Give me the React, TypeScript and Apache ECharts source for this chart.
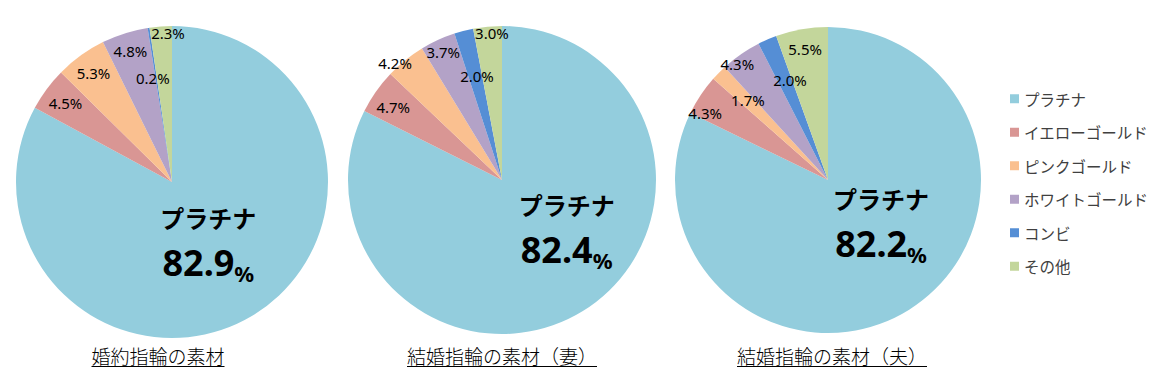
import React, { useEffect, useRef } from "react";
import * as echarts from "echarts";

const categories = ["プラチナ", "イエローゴールド", "ピンクゴールド", "ホワイトゴールド", "コンビ", "その他"];
const engagementValues = [82.9, 4.5, 5.3, 4.8, 0.2, 2.3];
const weddingWifeValues = [82.4, 4.7, 4.2, 3.7, 2.0, 3.0];
const weddingHusbandValues = [82.2, 4.3, 1.7, 4.3, 2.0, 5.5];
const pieTitles = ["婚約指輪の素材", "結婚指輪の素材（妻）", "結婚指輪の素材（夫）"];
const sliceColors = ["#93CDDD", "#D99694", "#FAC090", "#B3A2C7", "#558ED5", "#C3D69B"];

// layout (style) settings
const PIES = [
  { values: engagementValues, cx: 172, cy: 182, r: 156, titleX: 158 },
  { values: weddingWifeValues, cx: 502, cy: 180, r: 154, titleX: 502 },
  { values: weddingHusbandValues, cx: 828, cy: 180, r: 153, titleX: 832 },
];
// label placement per slice: [radius fraction, angle tweak in degrees]
const LABEL_POS = [
  [[0.455, 0], [0.85, 0], [0.86, 0], [0.88, 0], [0.68, -1.8], [0.955, 2.6]],
  [[0.53, -20.7], [0.85, -1.3], [1.03, -3.5], [0.915, 0], [0.695, 0.9], [0.96, 1.5]],
  [[0.45, -18.4], [0.915, -5], [0.74, 0.5], [0.96, -3.4], [0.7, 2.6], [0.87, 0]],
];

function midAngle(values: number[], i: number) {
  const total = values.reduce((a, b) => a + b, 0);
  let acc = 0;
  for (let k = 0; k < i; k++) acc += values[k];
  return ((acc + values[i] / 2) / total) * 360;
}

export default function App() {
  const ref = useRef<HTMLDivElement>(null);
  useEffect(() => {
    if (!ref.current) return;
    const chart = echarts.init(ref.current, null, { renderer: "svg" });
    const TITLE_FS = 19;
    const series = PIES.map((p, si) => ({
      type: "pie",
      name: pieTitles[si],
      center: [p.cx, p.cy],
      radius: p.r,
      startAngle: 90,
      clockwise: true,
      silent: true,
      avoidLabelOverlap: false,
      itemStyle: { borderWidth: 0 },
      labelLine: { show: false },
      label: {
        show: true,
        position: "inside",
        fontFamily: "Noto Sans",
        fontSize: 15,
        color: "#000",
        formatter: (params: any) =>
          params.dataIndex === 0
            ? `{n|${params.name}}\n{v|${params.value.toFixed(1)}}{p|%}`
            : `${params.value.toFixed(1)}%`,
        rich: {
          n: { fontFamily: "Noto Sans CJK JP", fontWeight: "bold", fontSize: 24, lineHeight: 40, color: "#000" },
          v: { fontFamily: "Noto Sans", fontWeight: "bold", fontSize: 36, lineHeight: 50, color: "#000" },
          p: { fontFamily: "Noto Sans", fontWeight: "bold", fontSize: 22, lineHeight: 50, color: "#000", verticalAlign: "bottom", padding: [0, 0, 4, 0] },
        },
      },
      labelLayout: (params: any) => {
        const i = params.dataIndex;
        const [rr, dth] = LABEL_POS[si][i];
        const a = ((midAngle(p.values, i) + dth) * Math.PI) / 180;
        return {
          x: p.cx + rr * p.r * Math.sin(a),
          y: p.cy - rr * p.r * Math.cos(a),
          align: "center",
          verticalAlign: "middle",
        };
      },
      data: categories.map((c, i) => ({ name: c, value: p.values[i], itemStyle: { color: sliceColors[i] } })),
    }));

    const graphics: any[] = [];
    PIES.forEach((p, si) => {
      const w = pieTitles[si].length * TITLE_FS;
      graphics.push({
        type: "text",
        x: p.titleX,
        y: 355,
        style: {
          text: pieTitles[si],
          fontFamily: "Noto Sans CJK JP",
          fontSize: TITLE_FS,
          fontWeight: 300,
          fill: "#000",
          align: "center",
          verticalAlign: "middle",
        },
      });
      graphics.push({
        type: "line",
        shape: { x1: p.titleX - w / 2, y1: 366.5, x2: p.titleX + w / 2, y2: 366.5 },
        style: { stroke: "#000", lineWidth: 1 },
      });
    });

    chart.setOption({
      animation: false,
      backgroundColor: "#fff",
      color: sliceColors,
      legend: {
        orient: "vertical",
        left: 1005,
        top: 86,
        itemWidth: 9,
        itemHeight: 9,
        itemGap: 18,
        icon: "rect",
        data: categories,
        textStyle: { fontFamily: "Noto Sans CJK JP", fontSize: 15.5, color: "#404040" },
      },
      graphic: graphics,
      series,
    });
    return () => chart.dispose();
  }, []);
  return <div ref={ref} style={{ position: "fixed", left: 0, top: 0, width: 1170, height: 390 }} />;
}
